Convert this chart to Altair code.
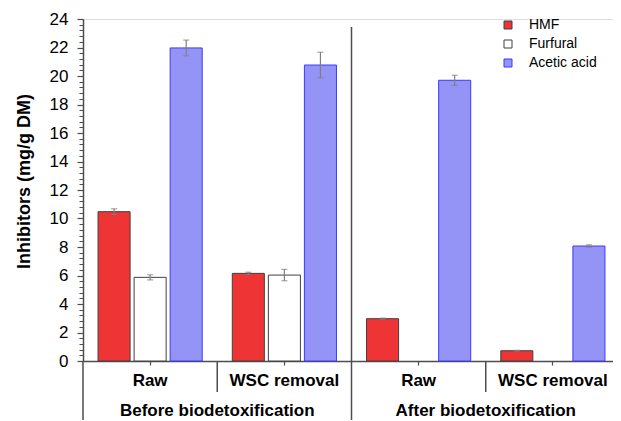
import altair as alt
import pandas as pd

# ---- data ----
stages = ["Before", "Before", "After", "After"]
treatments = ["Raw", "WSC removal", "Raw", "WSC removal"]
series = ["HMF", "Furfural", "Acetic acid"]
hmf = [10.48, 6.15, 2.97, 0.72]
hmf_err = [0.2, 0.08, 0.04, 0.03]
furfural = [5.87, 6.03, None, None]
furfural_err = [0.18, 0.4, None, None]
acetic = [21.97, 20.77, 19.7, 8.07]
acetic_err = [0.55, 0.9, 0.35, 0.08]
stage_titles = ["Before biodetoxification", "After biodetoxification"]
stage_anchor = ["Before|Raw", "After|Raw"]
y_major = list(range(0, 25, 2))
y_minor = [round(i * 0.4, 1) for i in range(61)]

conds = [s + "|" + t for s, t in zip(stages, treatments)]
rows = []
for name, vals, errs in [("HMF", hmf, hmf_err), ("Furfural", furfural, furfural_err),
                         ("Acetic acid", acetic, acetic_err)]:
    for c, v, e in zip(conds, vals, errs):
        if v is None:
            continue
        rows.append({"cond": c, "series": name, "value": v, "lo": v - e, "hi": v + e})
df = pd.DataFrame(rows)
labels_df = pd.DataFrame({"cond": stage_anchor, "label": stage_titles})

W, H = 530, 342      # visible plot size (page has to fit the window)
XR = 537             # x range of the band scale
BOT = 59
AX = "#4d4d4d"
FONT = "Liberation Sans"

xaxis = alt.Axis(title=None, labelExpr="split(datum.value, '|')[1]", labelAngle=0,
                 labelFontSize=17, labelFontWeight="bold", labelColor="#000",
                 labelBaseline="alphabetic", labelPadding=20, tickSize=4,
                 tickColor=AX, domainColor=AX, domainWidth=1.5, tickWidth=1.2)
xscale = alt.Scale(domain=conds, padding=0, range=[0, XR])


def X(bp=None):
    if bp is None:
        return alt.X("cond:N", sort=conds, scale=xscale, axis=xaxis)
    return alt.X("cond:N", sort=conds, scale=xscale, axis=xaxis, bandPosition=bp)


xoff = alt.XOffset("series:N", sort=series,
                   scale=alt.Scale(domain=series, paddingInner=0.111, paddingOuter=0.417))
yscale = alt.Scale(domain=[0, 24], nice=False)

leg = alt.Legend(title=None, orient="none", legendX=418, legendY=-1, symbolType="square",
                 symbolSize=64, symbolStrokeWidth=1, labelFontSize=14, labelColor="#000",
                 labelOffset=14, rowPadding=5, padding=0, labelFont=FONT)

bars = alt.Chart(df).mark_bar(strokeWidth=1).encode(
    x=X(),
    xOffset=xoff,
    y=alt.Y("value:Q", scale=yscale,
            axis=alt.Axis(title="Inhibitors (mg/g DM)", values=y_major, tickSize=6,
                          labelPadding=9, labelFontSize=17, labelColor="#000",
                          titleFontSize=18, titleFontWeight="bold", titleColor="#000",
                          titleX=-59, titleY=162, titleAngle=270, titleAlign="center",
                          titleBaseline="middle", domainColor=AX, domainWidth=1.5,
                          tickColor=AX, tickWidth=1.2, grid=False, orient="left")),
    fill=alt.Fill("series:N", sort=series,
                  scale=alt.Scale(domain=series, range=["#ee3434", "#ffffff", "#9494f7"]),
                  legend=leg),
    stroke=alt.Stroke("series:N", sort=series,
                      scale=alt.Scale(domain=series, range=["#404040", "#404040", "#3a3aff"]),
                      legend=leg),
)

err = alt.Chart(df).mark_rule(color="#7f7f7f", strokeWidth=1.2).encode(
    x=X(), xOffset=xoff,
    y=alt.Y("lo:Q", scale=yscale,
            axis=alt.Axis(title=None, values=y_minor, labels=False, tickSize=4,
                          tickColor=AX, tickWidth=1, domain=False, grid=False, orient="left")),
    y2="hi:Q",
)
cap_lo = alt.Chart(df).mark_tick(color="#7f7f7f", size=6, thickness=1.2).encode(
    x=X(), xOffset=xoff, y=alt.Y("lo:Q", scale=yscale, axis=None))
cap_hi = alt.Chart(df).mark_tick(color="#7f7f7f", size=6, thickness=1.2).encode(
    x=X(), xOffset=xoff, y=alt.Y("hi:Q", scale=yscale, axis=None))

cond_df = pd.DataFrame({"cond": conds})

div_major = alt.Chart(cond_df).transform_filter(
    alt.FieldOneOfPredicate(field="cond", oneOf=["Before|Raw"])
).mark_rule(color=AX, strokeWidth=1.5).encode(
    x=X(0), y=alt.value(H), y2=alt.value(H + BOT))
div_mid = alt.Chart(cond_df).transform_filter(
    alt.FieldOneOfPredicate(field="cond", oneOf=["After|Raw"])
).mark_rule(color=AX, strokeWidth=1.5).encode(
    x=X(0), y=alt.value(8), y2=alt.value(H + BOT))
div_minor = alt.Chart(cond_df).transform_filter(
    alt.FieldOneOfPredicate(field="cond", oneOf=stage_anchor)
).mark_rule(color=AX, strokeWidth=1.5).encode(
    x=X(1), y=alt.value(H), y2=alt.value(H + 31))

group_text = alt.Chart(labels_df).mark_text(
    fontSize=17, fontWeight="bold", color="#000", baseline="alphabetic", align="center"
).encode(x=X(1), y=alt.value(H + 55), text="label:N")

chart = alt.layer(
    bars, err, cap_lo, cap_hi, div_major, div_mid, div_minor, group_text
).resolve_axis(y="independent").properties(
    width=W, height=H,
    autosize=alt.AutoSizeParams(type="none"),
    padding={"left": 75, "top": 11, "right": 0, "bottom": BOT},
).configure_view(stroke=None).configure(font=FONT)

chart.save("out.html", embed_options={"renderer": "svg", "actions": False})
